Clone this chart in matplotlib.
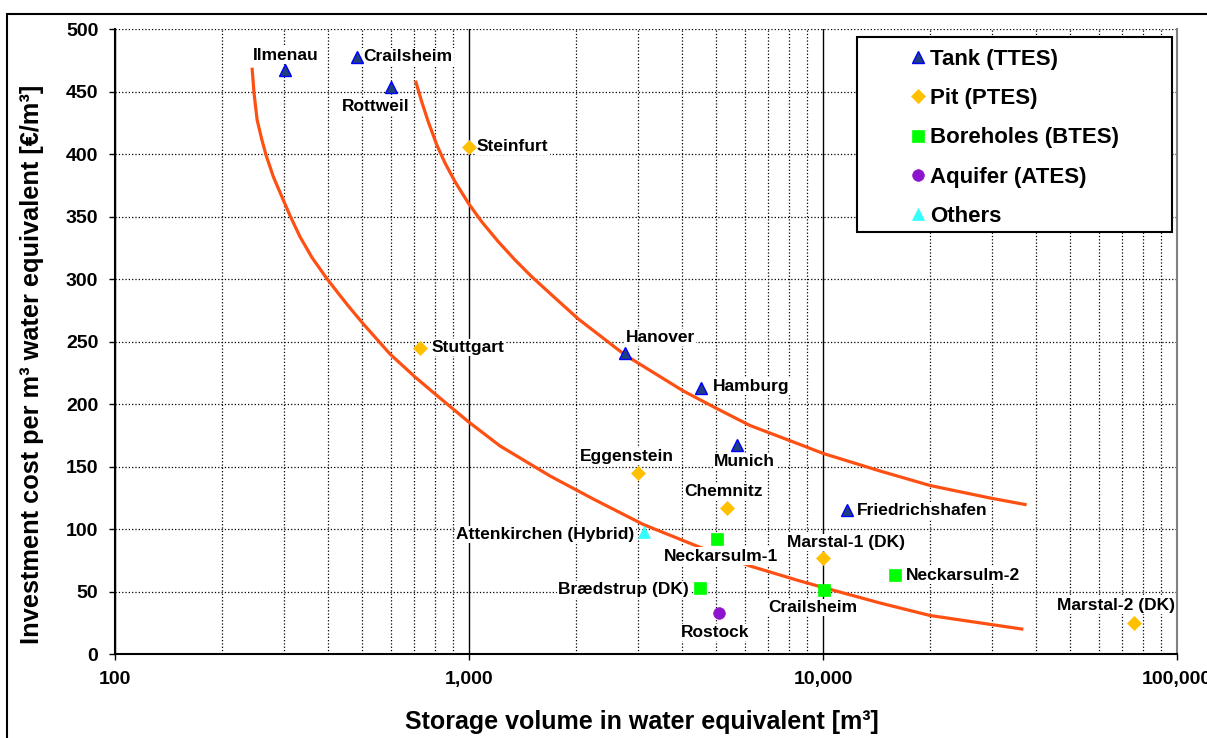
import numpy as np
import matplotlib
matplotlib.use("Agg")
import matplotlib.pyplot as plt
from matplotlib.ticker import FixedLocator, FuncFormatter, LogLocator, NullFormatter
from matplotlib.patches import Rectangle

plt.rcParams['font.family'] = ['Liberation Sans', 'DejaVu Sans']
plt.rcParams['font.weight'] = 'bold'

# --- data ---
tank_names = ["Ilmenau", "Crailsheim", "Rottweil", "Hanover", "Hamburg", "Munich", "Friedrichshafen"]
tank_vol = [302, 484, 601, 2760, 4520, 5730, 11660]
tank_cost = [467, 478, 454, 241, 213, 167, 115]

pit_names = ["Steinfurt", "Stuttgart", "Eggenstein", "Chemnitz", "Marstal-1 (DK)", "Marstal-2 (DK)"]
pit_vol = [1000, 727, 3010, 5370, 10000, 75500]
pit_cost = [406, 245, 145, 117, 77, 25]

btes_names = ["Neckarsulm-1", "Brædstrup (DK)", "Crailsheim", "Neckarsulm-2"]
btes_vol = [5030, 4490, 10030, 15970]
btes_cost = [92, 53, 51, 63]

ates_names = ["Rostock"]
ates_vol = [5085]
ates_cost = [33]

other_names = ["Attenkirchen (Hybrid)"]
other_vol = [3130]
other_cost = [98]

# trend curves
low_vol = [244, 247, 252, 260, 267, 280, 296, 312, 333, 360, 396, 432, 461, 503,
           598, 704, 802, 996, 1224, 1694, 2244, 3108, 4398, 6220, 8610, 10020,
           14490, 20060, 36410]
low_cost = [467.8, 448.6, 427.2, 411.2, 399.2, 381.8, 365.8, 350.8, 333.8, 317.2,
            300.6, 286.8, 276.8, 264.0, 240.0, 221.6, 208.0, 185.8, 166.4, 142.4,
            124.0, 103.6, 86.4, 70.4, 58.4, 53.2, 40.8, 30.8, 20.0]
up_vol = [708, 735, 767, 811, 856, 913, 996, 1086, 1210, 1349, 1504, 1713, 2036,
          2759, 4031, 5008, 6220, 8610, 10020, 14490, 20060, 29630, 37210]
up_cost = [457.4, 441.8, 425.8, 407.2, 392.6, 377.8, 360.6, 345.8, 329.8, 315.2,
           301.8, 287.2, 268.0, 239.2, 210.4, 196.4, 182.8, 167.6, 160.4, 146.4,
           134.8, 124.8, 119.6]

x_ticks = [100, 1000, 10000, 100000]
y_ticks = [0, 50, 100, 150, 200, 250, 300, 350, 400, 450, 500]

# --- label placement (pixel offsets from marker, alignment) ---
tank_off = [(1, 15, 'center'), (6, 0, 'left'), (-15, -20, 'center'), (1, 15, 'left'),
            (12, 1, 'left'), (7, -16, 'center'), (10, 0, 'left')]
pit_off = [(8, 0, 'left'), (12, 0, 'left'), (-12, 16, 'center'), (-4, 16, 'center'),
           (23, 15, 'center'), (-18, 17, 'center')]
btes_off = [(4, -17, 'center'), (-11, -2, 'right'), (-11, -17, 'center'), (11, 0, 'left')]
ates_off = [(-4, -20, 'center')]
other_off = [(-10, -3, 'right')]

fig = plt.figure(figsize=(12.07, 7.38), dpi=100)
ax = fig.add_axes([0.0953, 0.1138, 0.8799, 0.8469])

curve_col = '#FF5014'
ax.plot(low_vol, low_cost, color=curve_col, lw=2.3, zorder=3, solid_joinstyle='round')
ax.plot(up_vol, up_cost, color=curve_col, lw=2.3, zorder=3, solid_joinstyle='round')

groups = [
    (tank_vol, tank_cost, tank_names, tank_off, dict(marker='^', ms=8.4, mfc='#1F3F7F', mec='#0000FF', mew=1), 'Tank (TTES)'),
    (pit_vol, pit_cost, pit_names, pit_off, dict(marker='D', ms=7.3, mfc='#FFC000', mec='#FFC000', mew=0.5), 'Pit (PTES)'),
    (btes_vol, btes_cost, btes_names, btes_off, dict(marker='s', ms=8.0, mfc='#00FF00', mec='#00FF00', mew=0.5), 'Boreholes (BTES)'),
    (ates_vol, ates_cost, ates_names, ates_off, dict(marker='o', ms=8.4, mfc='#8B14CC', mec='#8B14CC', mew=0.5), 'Aquifer (ATES)'),
    (other_vol, other_cost, other_names, other_off, dict(marker='^', ms=8.4, mfc='#33FFFF', mec='#33FFFF', mew=0.5), 'Others'),
]

for vol, cost, names, offs, style, lab in groups:
    ax.plot(vol, cost, ls='none', zorder=6, label=lab, **style)
    for v, c, n, (dx, dy, ha) in zip(vol, cost, names, offs):
        ax.annotate(n, (v, c), xytext=(dx, dy), textcoords='offset pixels',
                    ha=ha, va='center', fontsize=12.5, fontweight='bold', zorder=5,
                    bbox=dict(facecolor='white', edgecolor='none', pad=0.8))

ax.set_xscale('log')
ax.set_xlim(100, 100000)
ax.set_ylim(0, 500)
ax.xaxis.set_major_locator(FixedLocator(x_ticks))
ax.xaxis.set_major_formatter(FuncFormatter(lambda v, p: f"{int(round(v)):,}"))
ax.xaxis.set_minor_locator(LogLocator(base=10, subs=range(2, 10)))
ax.xaxis.set_minor_formatter(NullFormatter())
ax.yaxis.set_major_locator(FixedLocator(y_ticks))

ax.tick_params(axis='both', which='major', labelsize=14, length=4, width=1, pad=8, direction='out')
ax.tick_params(axis='x', which='minor', length=0)
ax.tick_params(axis='x', which='major', top=False)

ax.grid(True, axis='y', which='major', ls=':', lw=0.9, color='black', zorder=1)
ax.grid(True, axis='x', which='minor', ls=':', lw=0.9, color='black', zorder=1)
ax.grid(True, axis='x', which='major', ls='-', lw=1.0, color='black', zorder=1)

ax.spines['top'].set_visible(False)
ax.spines['right'].set_color('#808080')
ax.spines['right'].set_linewidth(1.5)
ax.spines['left'].set_linewidth(1.5)
ax.spines['bottom'].set_linewidth(1.5)

ax.set_xlabel("Storage volume in water equivalent [m³]", fontsize=18, fontweight='bold')
ax.set_ylabel("Investment cost per m³ water equivalent [€/m³]", fontsize=18.3, fontweight='bold')
ax.xaxis.set_label_coords(0.496, -0.090)
ax.yaxis.set_label_coords(-0.067, 0.464)

# legend without frame, box drawn separately
leg = ax.legend(loc='upper left', bbox_to_anchor=(0.7498, 0.9680), frameon=False,
                prop=dict(size=16, weight='bold'), borderaxespad=0, borderpad=0,
                handlelength=0.6, handletextpad=0.25, labelspacing=0.82, numpoints=1)
leg.set_zorder(8)
ax.add_patch(Rectangle((0.6987, 0.6752), 0.2966, 0.312, transform=ax.transAxes,
                       facecolor='white', edgecolor='black', lw=1.5, zorder=7))

# outer chart frame
fig.add_artist(Rectangle((7 / 1207, -0.1), 1.2, 0.981 + 0.1, transform=fig.transFigure,
                         fill=False, edgecolor='black', lw=1.5))

fig.savefig("out.png", dpi=100)
